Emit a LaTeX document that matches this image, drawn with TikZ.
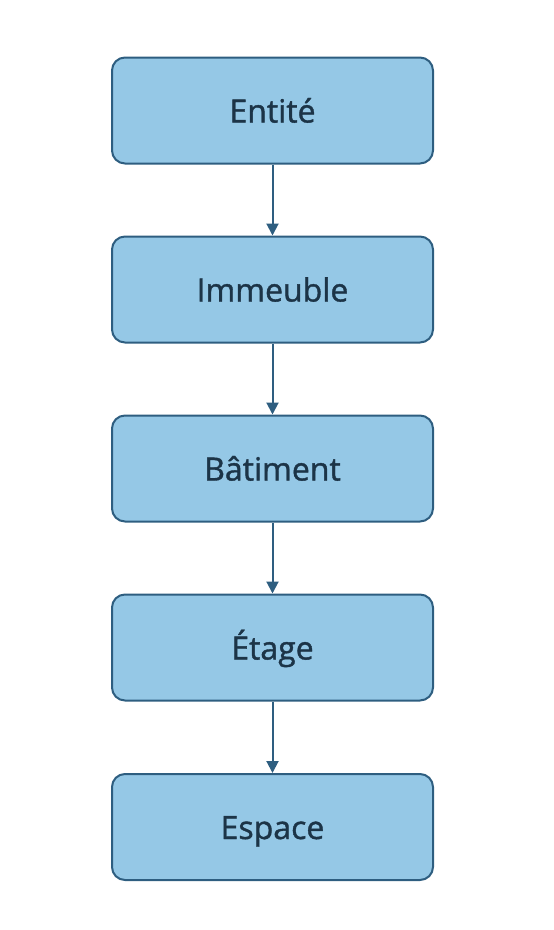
\documentclass[tikz,border=0pt]{standalone}
\usepackage{fontspec}
\setmainfont{Open Sans}
\newfontfamily\levelfont[FakeBold=1.2]{Open Sans}
\usetikzlibrary{arrows.meta}
\definecolor{boxfill}{HTML}{95C8E6}
\definecolor{boxline}{HTML}{2E5E80}
\definecolor{boxtext}{HTML}{1C3447}

\begin{document}
\begin{tikzpicture}[x=1pt, y=-1pt,
    level/.style={draw=boxline, fill=boxfill, line width=2pt, rounded corners=13pt,
        minimum width=321pt, minimum height=106pt, inner sep=0pt,
        text height=24pt, text depth=0pt,
        text=boxtext, font=\levelfont\fontsize{32}{40}\selectfont},
    link/.style={draw=boxline, line width=2pt, -{Triangle[length=12pt, width=12pt]}}]
            \useasboundingbox (0, 0) rectangle (554, 930);

            \node[level] (entite) at (272.5, 110.5){Entité};
            \node[level] (immeuble) at (272.5, 289.5){Immeuble};
            \node[level] (batiment) at (272.5, 468.5){Bâtiment};
            \node[level] (etage) at (272.5, 647.5){Étage};
            \node[level] (espace) at (272.5, 827){Espace};

            \draw[link] (entite) -- (immeuble);
            \draw[link] (immeuble) -- (batiment);
            \draw[link] (batiment) -- (etage);
            \draw[link] (etage) -- (espace);
        \end{tikzpicture}
\end{document}
